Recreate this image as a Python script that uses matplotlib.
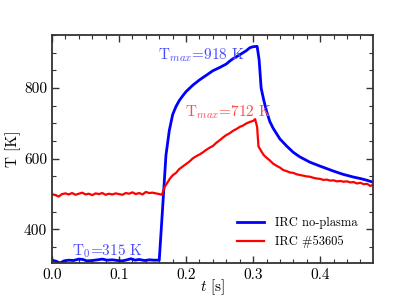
import matplotlib
matplotlib.use("Agg")
from matplotlib import pyplot as plt
from matplotlib.ticker import MultipleLocator

plt.rcParams['font.family'] = ['cmr10', 'DejaVu Serif']
plt.rcParams['mathtext.fontset'] = 'cm'
plt.rcParams['axes.unicode_minus'] = False
plt.rcParams['axes.formatter.use_mathtext'] = True

# IRC no-plasma
t_blue = [0.000, 0.006, 0.012, 0.018, 0.025, 0.032, 0.040, 0.046, 0.052, 0.060,
          0.068, 0.075, 0.082, 0.090, 0.098, 0.105, 0.112, 0.118, 0.124, 0.130,
          0.138, 0.145, 0.152, 0.160, 0.165, 0.170, 0.175, 0.180, 0.185, 0.190,
          0.195, 0.200, 0.210, 0.220, 0.230, 0.240, 0.250, 0.260, 0.265, 0.270,
          0.280, 0.290, 0.295, 0.300, 0.306, 0.309, 0.312, 0.316, 0.320, 0.325,
          0.330, 0.340, 0.350, 0.360, 0.370, 0.385, 0.400, 0.410, 0.420, 0.434,
          0.450, 0.460, 0.470, 0.480]
T_blue = [313, 310, 305, 311, 313, 312, 316, 315, 311, 312,
          314, 316, 313, 314, 312, 311, 314, 317, 313, 315,
          312, 314, 313, 313, 460, 610, 680, 725, 748, 765,
          778, 790, 808, 823, 836, 849, 858, 868, 876, 883,
          894, 906, 914, 917, 918, 880, 800, 765, 735, 705,
          686, 656, 636, 618, 605, 590, 579, 572, 565, 556,
          548, 544, 539, 533]

# IRC #53605
t_red = [0.000, 0.005, 0.010, 0.015, 0.020, 0.025, 0.030, 0.035, 0.040, 0.045,
         0.050, 0.055, 0.060, 0.065, 0.070, 0.075, 0.080, 0.085, 0.090, 0.095,
         0.100, 0.105, 0.110, 0.115, 0.120, 0.125, 0.130, 0.135, 0.140, 0.145,
         0.150, 0.155, 0.160, 0.164, 0.168, 0.172, 0.176, 0.180, 0.185, 0.190,
         0.195, 0.200, 0.205, 0.210, 0.215, 0.220, 0.225, 0.230, 0.235, 0.240,
         0.245, 0.250, 0.255, 0.260, 0.265, 0.270, 0.275, 0.280, 0.285, 0.290,
         0.295, 0.300, 0.303, 0.306, 0.308, 0.312, 0.316, 0.320, 0.325, 0.330,
         0.335, 0.340, 0.345, 0.350, 0.355, 0.360, 0.365, 0.370, 0.375, 0.380,
         0.385, 0.390, 0.395, 0.400, 0.405, 0.410, 0.415, 0.420, 0.425, 0.430,
         0.435, 0.440, 0.445, 0.450, 0.455, 0.460, 0.465, 0.470, 0.475, 0.480]
T_red = [500, 497, 493, 500, 502, 499, 503, 498, 501, 504,
         499, 501, 497, 502, 500, 503, 498, 501, 499, 502,
         500, 498, 503, 501, 505, 500, 503, 499, 506, 503,
         504, 502, 500, 498, 520, 532, 544, 553, 560, 571,
         578, 585, 592, 601, 607, 612, 618, 625, 631, 636,
         645, 652, 660, 667, 672, 679, 684, 690, 694, 700,
         704, 707, 712, 690, 635, 622, 610, 603, 595, 586,
         580, 575, 568, 565, 561, 560, 556, 554, 552, 550,
         549, 546, 544, 543, 540, 541, 538, 539, 536, 537,
         535, 536, 533, 534, 530, 532, 528, 529, 523, 527]

fig = plt.figure(figsize=(4.15, 2.97), dpi=100)
ax = fig.add_axes([0.1253, 0.1145, 0.7737, 0.7675])

ax.plot(t_blue, T_blue, color='#0000ff', lw=2.0, label='IRC no-plasma')
ax.plot(t_red, T_red, color='#ff0000', lw=1.6, label='IRC #53605')

ax.text(0.158, 894, r'T$_{max}$=918 K', color='#4a4aff', fontsize=11, va='center')
ax.text(0.199, 732, r'T$_{max}$=712 K', color='#ff4a4a', fontsize=11, va='center')
ax.text(0.030, 338, r'T$_{0}$=315 K', color='#4a4aff', fontsize=11, va='center')

ax.set_xlim(0, 0.479)
ax.set_ylim(305, 950)
ax.set_xlabel(r'$t$ [s]', fontsize=11, labelpad=-3)
ax.set_ylabel('T [K]', fontsize=11, labelpad=2)

ax.xaxis.set_major_locator(MultipleLocator(0.1))
ax.xaxis.set_minor_locator(MultipleLocator(0.02))
ax.yaxis.set_major_locator(MultipleLocator(200))
ax.yaxis.set_minor_locator(MultipleLocator(50))
ax.set_xticks([0.0, 0.1, 0.2, 0.3, 0.4])
ax.set_xticklabels(['0.0', '0.1', '0.2', '0.3', '0.4'])
ax.set_yticks([400, 600, 800])
ax.set_yticklabels(['400', '600', '800'])
ax.tick_params(which='both', direction='in', top=True, right=True, labelsize=11, color='#333333')
ax.tick_params(which='major', length=5, width=1)
ax.tick_params(which='minor', length=3, width=0.8)
for s in ax.spines.values():
    s.set_linewidth(1.3)
    s.set_color('#333333')

ax.legend(loc='lower right', frameon=False, fontsize=9, handlelength=2.2,
          handletextpad=0.9, labelspacing=0.5, borderaxespad=0.8)

fig.savefig('out.png', dpi=100)
